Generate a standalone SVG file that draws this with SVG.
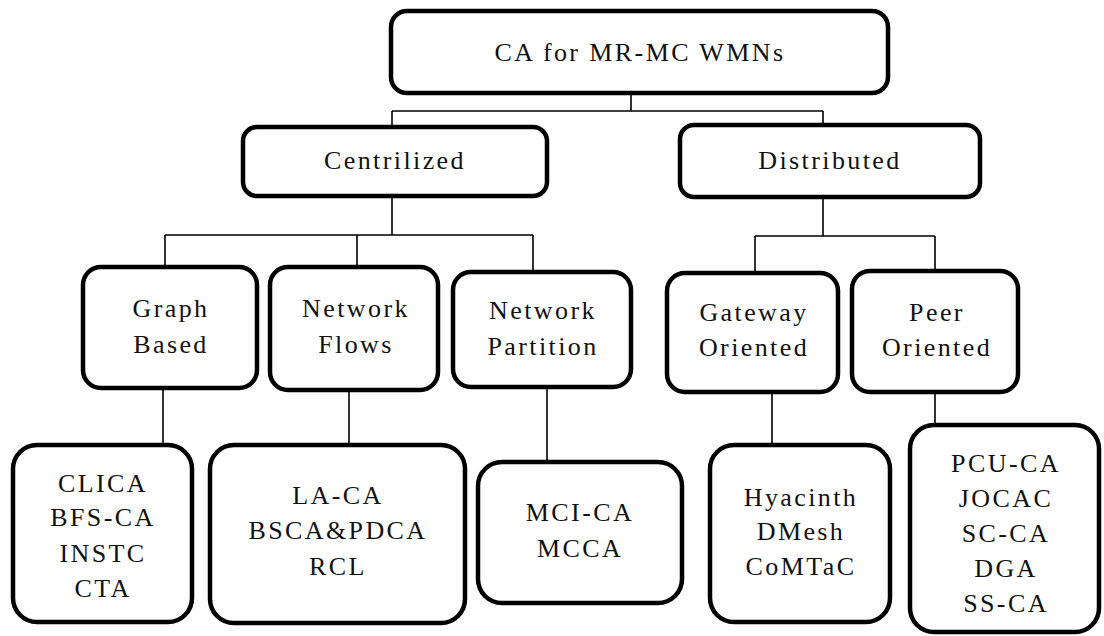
<svg xmlns="http://www.w3.org/2000/svg" width="1104" height="636" viewBox="0 0 1104 636">
<style>
.box{fill:#fff;stroke:#000;stroke-width:4.5}
.t{font-family:"Liberation Serif","Times New Roman",serif;font-size:26px;letter-spacing:2.4px;text-anchor:middle;fill:#111}
.c{stroke:#000;stroke-width:1.6;fill:none}
</style>
<rect width="1104" height="636" fill="#fff"/>
<g id="connectors">
<path class="c" d="M631,93 V111 M392,111 H823 M392,111 V127 M823,111 V125"/>
<path class="c" d="M392,196 V235 M165,235 H533 M165,235 V267 M357,235 V267 M533,235 V272"/>
<path class="c" d="M823,197 V236 M755,236 H935 M755,236 V273 M935,236 V271"/>
<path class="c" d="M163,390 V445 M349,390 V445 M547,387 V462 M772,392 V445 M935,392 V425"/>
</g>
<g id="root"><rect class="box" x="391" y="11" width="497" height="82" rx="16"/><text class="t" x="640" y="61">CA for MR-MC WMNs</text></g>
<g id="centrilized"><rect class="box" x="243" y="127" width="304" height="69" rx="14"/><text class="t" x="395" y="169">Centrilized</text></g>
<g id="distributed"><rect class="box" x="680" y="125" width="300" height="72" rx="14"/><text class="t" x="830" y="169">Distributed</text></g>
<g id="graph"><rect class="box" x="83" y="267" width="174" height="121" rx="18"/><text class="t" x="171" y="317">Graph</text><text class="t" x="171" y="353">Based</text></g>
<g id="flows"><rect class="box" x="270" y="267" width="168" height="123" rx="18"/><text class="t" x="356" y="317">Network</text><text class="t" x="356" y="353">Flows</text></g>
<g id="partition"><rect class="box" x="453" y="272" width="178" height="115" rx="18"/><text class="t" x="543" y="319">Network</text><text class="t" x="543" y="355">Partition</text></g>
<g id="gateway"><rect class="box" x="667" y="273" width="171" height="119" rx="18"/><text class="t" x="754" y="321">Gateway</text><text class="t" x="754" y="356">Oriented</text></g>
<g id="peer"><rect class="box" x="852" y="271" width="166" height="121" rx="18"/><text class="t" x="937" y="321">Peer</text><text class="t" x="937" y="356">Oriented</text></g>
<g id="graph-list"><rect class="box" x="13" y="445" width="179" height="177" rx="24"/><text class="t" x="103" y="492">CLICA</text><text class="t" x="103" y="526">BFS-CA</text><text class="t" x="103" y="562">INSTC</text><text class="t" x="103" y="597">CTA</text></g>
<g id="flows-list"><rect class="box" x="210" y="445" width="255" height="178" rx="24"/><text class="t" x="338" y="504">LA-CA</text><text class="t" x="338" y="539">BSCA&amp;PDCA</text><text class="t" x="338" y="575">RCL</text></g>
<g id="partition-list"><rect class="box" x="478" y="462" width="204" height="141" rx="24"/><text class="t" x="580" y="521">MCI-CA</text><text class="t" x="580" y="557">MCCA</text></g>
<g id="gateway-list"><rect class="box" x="710" y="445" width="180" height="177" rx="24"/><text class="t" x="801" y="506">Hyacinth</text><text class="t" x="801" y="540">DMesh</text><text class="t" x="801" y="575">CoMTaC</text></g>
<g id="peer-list"><rect class="box" x="910" y="425" width="189" height="207" rx="24"/><text class="t" x="1006" y="472">PCU-CA</text><text class="t" x="1006" y="507">JOCAC</text><text class="t" x="1006" y="542">SC-CA</text><text class="t" x="1006" y="577">DGA</text><text class="t" x="1006" y="612">SS-CA</text></g>
</svg>
